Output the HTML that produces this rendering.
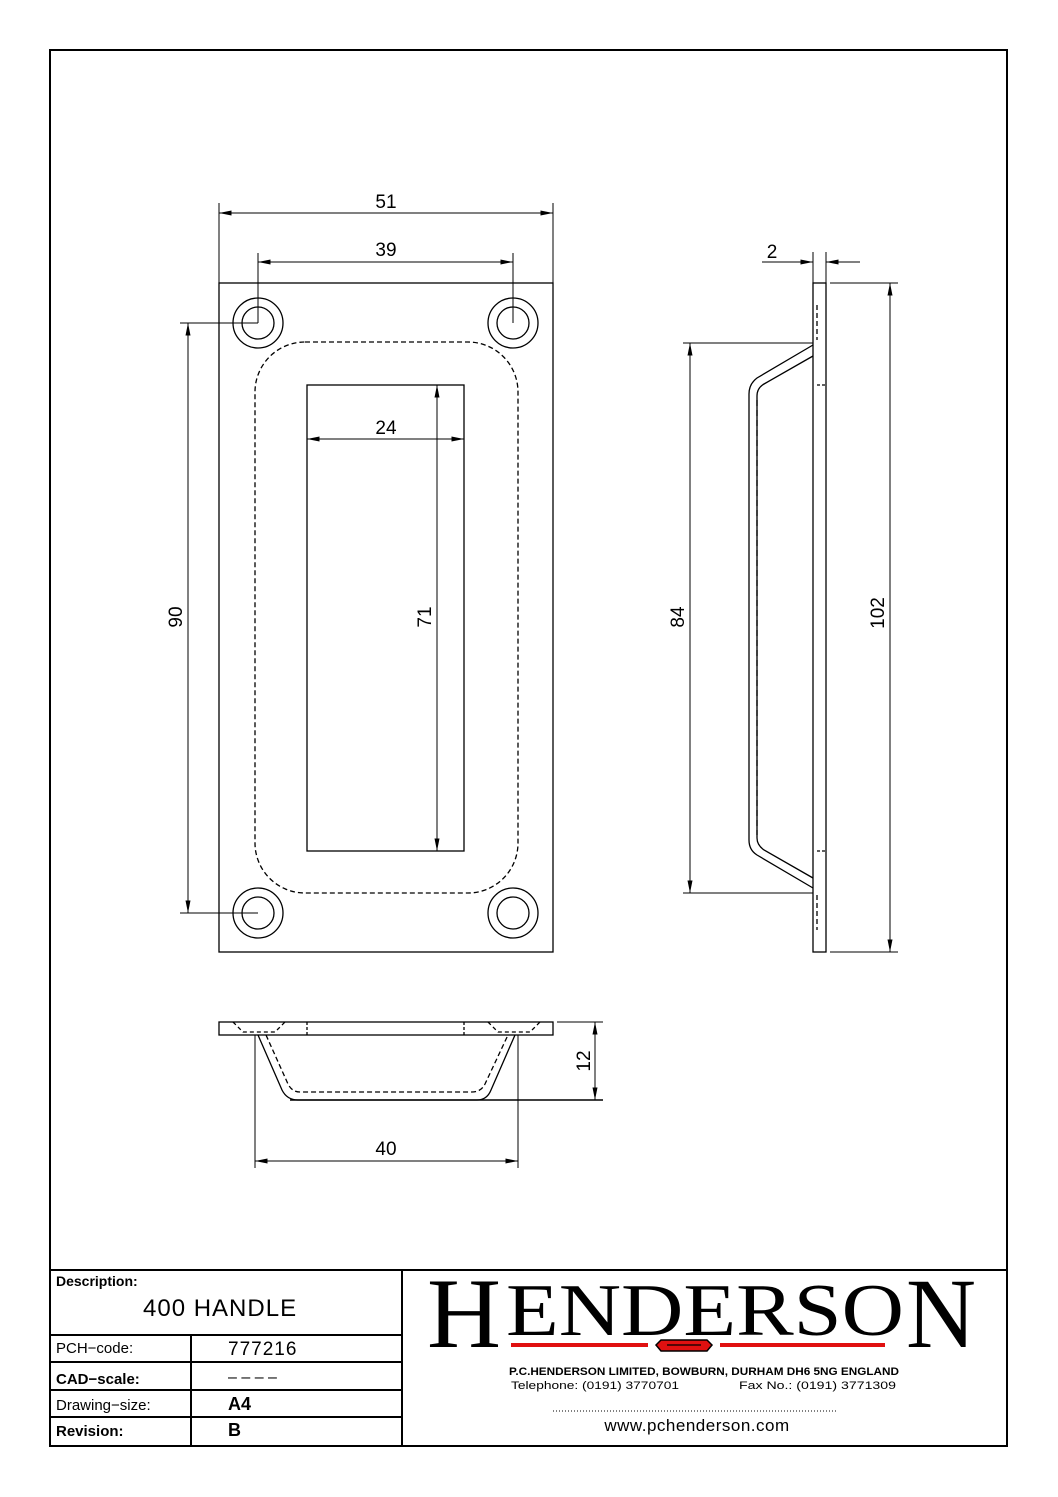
<!DOCTYPE html>
<html><head><meta charset="utf-8"><style>
html,body{margin:0;padding:0;background:#fff;}
svg{display:block;}
text{font-family:"Liberation Sans",sans-serif;fill:#000;}
</style></head><body>
<svg width="1058" height="1497" viewBox="0 0 1058 1497" xmlns="http://www.w3.org/2000/svg">
<defs>
<marker id="a" viewBox="0 0 10 4" refX="10" refY="2" markerWidth="14" markerHeight="5" markerUnits="userSpaceOnUse" orient="auto-start-reverse"><path d="M0,0 L10,2 L0,4 z" fill="#000"/></marker>
</defs>
<g fill="none" stroke="#000">
<rect x="50" y="50" width="957" height="1396" stroke-width="2"/>
<line x1="50" y1="1270" x2="1007" y2="1270" stroke-width="2"/>
<line x1="402" y1="1270" x2="402" y2="1446" stroke-width="2"/>
<g stroke-width="2">
<line x1="50" y1="1335" x2="402" y2="1335"/>
<line x1="50" y1="1362" x2="402" y2="1362"/>
<line x1="50" y1="1390" x2="402" y2="1390"/>
<line x1="50" y1="1417" x2="402" y2="1417"/>
<line x1="191" y1="1335" x2="191" y2="1446"/>
</g>

<g stroke-width="1.3">
<rect x="219" y="283" width="334" height="669"/>
<circle cx="258" cy="323" r="25"/><circle cx="258" cy="323" r="16"/>
<circle cx="513" cy="323" r="25"/><circle cx="513" cy="323" r="16"/>
<circle cx="258" cy="913" r="25"/><circle cx="258" cy="913" r="16"/>
<circle cx="513" cy="913" r="25"/><circle cx="513" cy="913" r="16"/>
<rect x="255" y="342" width="263" height="551" rx="50" stroke-dasharray="5,3"/>
<rect x="307" y="385" width="157" height="466"/>
</g>
<g stroke-width="1">
<line x1="219" y1="203" x2="219" y2="283"/><line x1="553" y1="203" x2="553" y2="283"/>
<line x1="219" y1="213" x2="553" y2="213" marker-start="url(#a)" marker-end="url(#a)"/>
<line x1="258" y1="253" x2="258" y2="323"/><line x1="513" y1="253" x2="513" y2="323"/>
<line x1="258" y1="262" x2="513" y2="262" marker-start="url(#a)" marker-end="url(#a)"/>
<line x1="307" y1="439" x2="464" y2="439" marker-start="url(#a)" marker-end="url(#a)"/>
<line x1="437" y1="385" x2="437" y2="851" marker-start="url(#a)" marker-end="url(#a)"/>
<line x1="180" y1="323" x2="258" y2="323"/><line x1="180" y1="913" x2="258" y2="913"/>
<line x1="188" y1="323" x2="188" y2="913" marker-start="url(#a)" marker-end="url(#a)"/>
</g>

<g stroke-width="1.3">
<rect x="813" y="283" width="13" height="669"/>
<path d="M813,345 L757,378 Q749,384 749,394 L749,840 Q749,850 757,855 L813,888"/>
<path d="M813,356 L764,384 Q757,388 757,396 L757,838 Q757,845 764,850 L813,878"/>
<line x1="757" y1="400" x2="757" y2="835" stroke-dasharray="6,4"/>
<line x1="817" y1="305" x2="817" y2="340" stroke-dasharray="5,3"/>
<line x1="817" y1="895" x2="817" y2="930" stroke-dasharray="5,3"/>
<line x1="817" y1="385" x2="826" y2="385" stroke-dasharray="3,2"/>
<line x1="817" y1="851" x2="826" y2="851" stroke-dasharray="3,2"/>
</g>
<g stroke-width="1">
<line x1="813" y1="252" x2="813" y2="283"/><line x1="826" y1="252" x2="826" y2="283"/>
<line x1="762" y1="262" x2="813" y2="262" marker-end="url(#a)"/>
<line x1="860" y1="262" x2="826" y2="262" marker-end="url(#a)"/>
<line x1="830" y1="283" x2="898" y2="283"/><line x1="830" y1="952" x2="898" y2="952"/>
<line x1="890" y1="283" x2="890" y2="952" marker-start="url(#a)" marker-end="url(#a)"/>
<line x1="683" y1="343" x2="813" y2="343"/><line x1="683" y1="893" x2="813" y2="893"/>
<line x1="690" y1="343" x2="690" y2="893" marker-start="url(#a)" marker-end="url(#a)"/>
</g>

<g stroke-width="1.3">
<rect x="219" y="1022" width="334" height="13"/>
<path d="M258,1035 L282,1090 Q287,1100 298,1100 L477,1100 Q487,1100 491,1090 L515,1035"/>
<path d="M266,1035 L288,1084 Q292,1092 300,1092 L472,1092 Q481,1092 485,1084 L508,1035" stroke-dasharray="5,3"/>
<line x1="307" y1="1022" x2="307" y2="1035" stroke-dasharray="3,2"/>
<line x1="464" y1="1022" x2="464" y2="1035" stroke-dasharray="3,2"/>
<path d="M233,1022 L243,1032 L275,1032 L285,1022" stroke-dasharray="4,3"/>
<path d="M488,1022 L498,1032 L530,1032 L540,1022" stroke-dasharray="4,3"/>
</g>
<g stroke-width="1">
<line x1="557" y1="1022" x2="603" y2="1022"/>
<line x1="290" y1="1100" x2="603" y2="1100" stroke-width="1.5"/>
<line x1="595" y1="1022" x2="595" y2="1100" marker-start="url(#a)" marker-end="url(#a)"/>
<line x1="255" y1="1035" x2="255" y2="1168"/><line x1="518" y1="1035" x2="518" y2="1168"/>
<line x1="255" y1="1161" x2="518" y2="1161" marker-start="url(#a)" marker-end="url(#a)"/>
</g>
<line x1="553" y1="1411" x2="838" y2="1411" stroke-width="1" stroke-dasharray="1,2"/>
</g>

<g font-size="19" text-anchor="middle">
<text x="386" y="208">51</text>
<text x="386" y="256">39</text>
<text x="386" y="434">24</text>
<text x="386" y="1155">40</text>
<text x="772" y="258">2</text>
<text transform="translate(431,617) rotate(-90)">71</text>
<text transform="translate(182,617) rotate(-90)">90</text>
<text transform="translate(684,617) rotate(-90)">84</text>
<text transform="translate(884,613) rotate(-90)">102</text>
<text transform="translate(590,1061) rotate(-90)">12</text>
</g>

<text x="56" y="1286" font-size="14" font-weight="bold">Description:</text>
<text x="143" y="1316" font-size="24" letter-spacing="1">400  HANDLE</text>
<text x="56" y="1353" font-size="15">PCH−code:</text>
<text x="228" y="1355" font-size="19" letter-spacing="1">777216</text>
<text x="56" y="1384" font-size="15" font-weight="bold">CAD−scale:</text>
<text x="228" y="1382" font-size="16">– – – –</text>
<text x="56" y="1410" font-size="15">Drawing−size:</text>
<text x="228" y="1410" font-size="18" font-weight="bold">A4</text>
<text x="56" y="1436" font-size="15" font-weight="bold">Revision:</text>
<text x="228" y="1436" font-size="18" font-weight="bold">B</text>

<text x="427" y="1347" style="font-family:'Liberation Serif',serif" font-size="100" textLength="74" lengthAdjust="spacingAndGlyphs">H</text>
<text x="506" y="1335" style="font-family:'Liberation Serif',serif" font-size="74" textLength="398" lengthAdjust="spacingAndGlyphs">ENDERSO</text>
<text x="906" y="1347" style="font-family:'Liberation Serif',serif" font-size="100" textLength="70" lengthAdjust="spacingAndGlyphs">N</text>
<rect x="511" y="1343" width="137" height="4" fill="#e01010"/>
<rect x="720" y="1343" width="165" height="4" fill="#e01010"/>
<path d="M661,1340 L707,1340 L712,1345 L707,1351 L661,1351 L656,1345 z" fill="#e01010" stroke="#000" stroke-width="1.5"/>
<line x1="667" y1="1345" x2="701" y2="1345" stroke="#000" stroke-width="1.2"/>
<text x="704" y="1375" font-size="11" text-anchor="middle" font-weight="bold" textLength="390" lengthAdjust="spacingAndGlyphs">P.C.HENDERSON LIMITED, BOWBURN, DURHAM DH6 5NG ENGLAND</text>
<text x="511" y="1389" font-size="11" textLength="168" lengthAdjust="spacingAndGlyphs">Telephone: (0191) 3770701</text>
<text x="739" y="1389" font-size="11" textLength="157" lengthAdjust="spacingAndGlyphs">Fax No.: (0191) 3771309</text>
<text x="697" y="1431" font-size="17" text-anchor="middle" letter-spacing="0.5">www.pchenderson.com</text>
</svg>
</body></html>
